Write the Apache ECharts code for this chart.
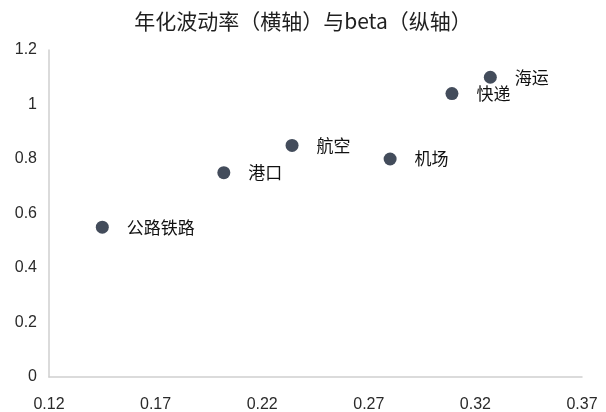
<!DOCTYPE html>
<html>
<head>
<meta charset="utf-8">
<script src="https://cdn.jsdelivr.net/npm/echarts@6/dist/echarts.min.js"></script>
<style>
  html, body { margin: 0; padding: 0; background: #fff; }
  #chart { width: 606px; height: 412px; }
</style>
</head>
<body>
<div id="chart"></div>
<script>
// Sectors: annualised volatility (x) against beta (y)
const sectors = ['公路铁路', '港口', '航空', '机场', '快递', '海运'];
const volatility = [0.145, 0.202, 0.234, 0.280, 0.309, 0.327];
const betaValues = [0.55, 0.75, 0.85, 0.80, 1.04, 1.10];
const xTickLabels = [0.12, 0.17, 0.22, 0.27, 0.32, 0.37];
const yTickStep = 0.2;

const points = sectors.map((name, i) => ({ name, value: [volatility[i], betaValues[i]] }));

const chart = echarts.init(document.getElementById('chart'), null, { renderer: 'canvas' });
const latin = '"Liberation Sans", Arial, sans-serif';
const cjk = '"Noto Sans CJK SC", "Liberation Sans", sans-serif';

chart.setOption({
  animation: false,
  backgroundColor: '#ffffff',
  title: {
    text: '年化波动率（横轴）与beta（纵轴）',
    left: 'center',
    top: 6,
    textStyle: { fontFamily: cjk, fontSize: 21, fontWeight: 'normal', color: '#1f1f1f' }
  },
  grid: { left: 49, right: 24, top: 50, bottom: 35, outerBoundsMode: 'none', containLabel: false },
  xAxis: {
    type: 'value',
    min: xTickLabels[0],
    max: xTickLabels[xTickLabels.length - 1],
    axisLine: { show: true, onZero: false, lineStyle: { color: '#cfcfcf', width: 1.5 } },
    axisTick: { show: false },
    splitLine: { show: false },
    axisLabel: {
      customValues: xTickLabels,
      formatter: v => v.toFixed(2),
      margin: 20,
      fontFamily: latin,
      fontSize: 16,
      color: '#2a2a2a'
    }
  },
  yAxis: {
    type: 'value',
    min: 0,
    max: 1.2,
    interval: yTickStep,
    axisLine: { show: true, lineStyle: { color: '#cfcfcf', width: 1.5 } },
    axisTick: { show: false },
    splitLine: { show: false },
    axisLabel: {
      formatter: v => String(Math.round(v * 10) / 10),
      margin: 12,
      fontFamily: latin,
      fontSize: 16,
      color: '#2a2a2a'
    }
  },
  series: [{
    type: 'scatter',
    data: points,
    symbolSize: 13,
    itemStyle: { color: '#434c5b', opacity: 1 },
    label: {
      show: true,
      position: 'right',
      distance: 18,
      formatter: p => p.name,
      fontFamily: cjk,
      fontSize: 17,
      color: '#111111'
    }
  }]
});
</script>
</body>
</html>
